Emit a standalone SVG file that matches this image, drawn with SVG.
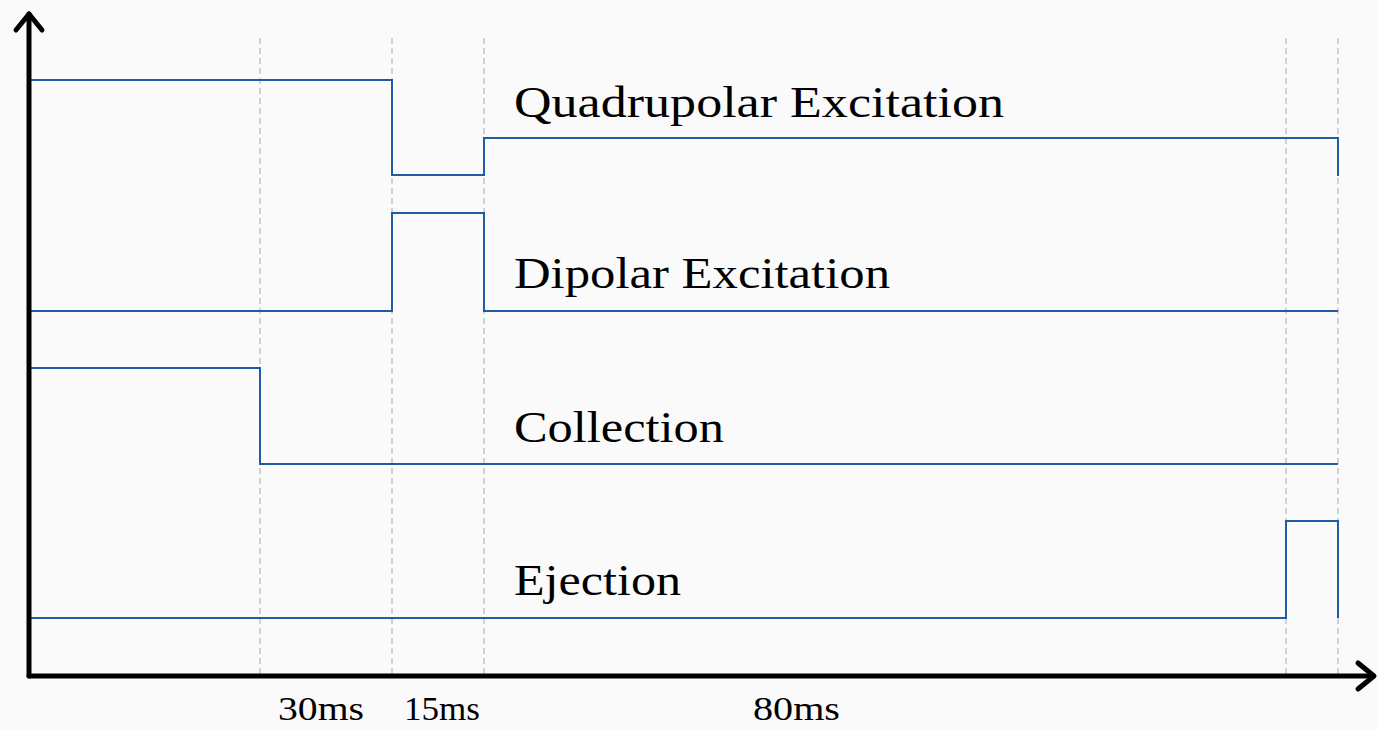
<svg xmlns="http://www.w3.org/2000/svg" width="1378" height="729" viewBox="0 0 1378 729">
<style>
.grid{stroke:#c4c4c4;stroke-width:1.5;stroke-dasharray:6 4;fill:none}
.sig{stroke:#1f5ca3;stroke-width:2;fill:none}
.axis{stroke:#000;stroke-width:5;fill:none;stroke-linecap:round;stroke-linejoin:round}
.lbl{font-family:"Liberation Serif","DejaVu Serif",serif;font-size:44px;fill:#000}
.tick{font-family:"Liberation Serif","DejaVu Serif",serif;font-size:34px;fill:#000}
</style>
<rect width="1378" height="729" fill="#fafafa"/>
<g id="gridlines">
<line class="grid" x1="260" y1="38" x2="260" y2="676"/>
<line class="grid" x1="392" y1="38" x2="392" y2="676"/>
<line class="grid" x1="484" y1="38" x2="484" y2="676"/>
<line class="grid" x1="1286" y1="38" x2="1286" y2="676"/>
<line class="grid" x1="1338" y1="38" x2="1338" y2="676"/>
</g>
<g id="signals">
<polyline id="quadrupolar" class="sig" points="31,80 392,80 392,175 484,175 484,138 1338,138 1338,176"/>
<polyline id="dipolar" class="sig" points="31,311 392,311 392,213 484,213 484,311 1338,311"/>
<polyline id="collection" class="sig" points="31,368 260,368 260,464 1338,464"/>
<polyline id="ejection" class="sig" points="31,618 1286,618 1286,521 1338,521 1338,618"/>
</g>
<g id="axes">
<line class="axis" x1="29" y1="676" x2="29" y2="14"/>
<polyline class="axis" points="16,30 29,14 42,30"/>
<line class="axis" x1="29" y1="676" x2="1372" y2="676"/>
<polyline class="axis" points="1358,663 1374,676 1358,689"/>
</g>
<g id="labels">
<text class="lbl" x="514" y="117" textLength="490" lengthAdjust="spacingAndGlyphs">Quadrupolar Excitation</text>
<text class="lbl" x="514" y="288" textLength="376" lengthAdjust="spacingAndGlyphs">Dipolar Excitation</text>
<text class="lbl" x="514" y="442" textLength="210" lengthAdjust="spacingAndGlyphs">Collection</text>
<text class="lbl" x="514" y="595" textLength="167" lengthAdjust="spacingAndGlyphs">Ejection</text>
<text class="tick" x="278" y="720" textLength="86" lengthAdjust="spacingAndGlyphs">30ms</text>
<text class="tick" x="404" y="720" textLength="76" lengthAdjust="spacingAndGlyphs">15ms</text>
<text class="tick" x="753" y="720" textLength="87" lengthAdjust="spacingAndGlyphs">80ms</text>
</g>
</svg>
